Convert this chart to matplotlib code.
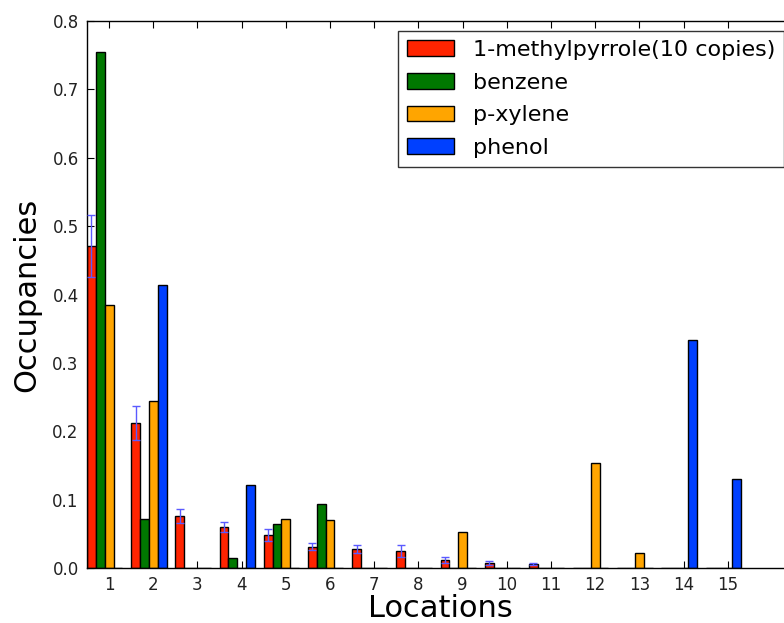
import numpy as np
import matplotlib
matplotlib.use('Agg')
import matplotlib.pyplot as plt

locations = list(range(1, 16))
labels = ['1-methylpyrrole(10 copies)', 'benzene', 'p-xylene', 'phenol']
colors = ['#ff2400', '#007800', '#ffa500', '#0040ff']

methylpyrrole = [0.471, 0.212, 0.076, 0.060, 0.048, 0.031, 0.028, 0.025, 0.012, 0.007, 0.006, 0, 0, 0, 0]
methylpyrrole_err = [0.046, 0.025, 0.010, 0.008, 0.009, 0.005, 0.006, 0.009, 0.004, 0.003, 0.001, 0, 0, 0, 0]
benzene = [0.755, 0.072, 0, 0.015, 0.064, 0.094, 0, 0, 0, 0, 0, 0, 0, 0, 0]
pxylene = [0.385, 0.244, 0, 0, 0.071, 0.070, 0, 0, 0.053, 0, 0, 0.153, 0.022, 0, 0]
phenol = [0, 0.414, 0, 0.121, 0, 0, 0, 0, 0, 0, 0, 0, 0, 0.333, 0.130]

width = 0.2
x = np.array(locations) - 0.5

fig = plt.figure(figsize=(7.84, 6.23), dpi=100)
ax = fig.add_axes([87/784, 55/623, 707/784, 547/623])

series = [methylpyrrole, benzene, pxylene, phenol]
for k, (vals, lab, col) in enumerate(zip(series, labels, colors)):
    ax.bar(x + k*width, vals, width, align='edge', color=col,
           edgecolor='black', linewidth=1, label=lab, zorder=2)

# only draw error bars where there is an occupancy
m = np.array(methylpyrrole) > 0
ax.errorbar((x + width/2)[m], np.array(methylpyrrole)[m], yerr=np.array(methylpyrrole_err)[m],
            fmt='none', ecolor='#5a5aff', elinewidth=1, capsize=3, capthick=1, zorder=3)

ax.set_xlim(0.5, 16.5)
ax.set_ylim(0, 0.8)
ax.set_xticks(locations)
ax.set_yticks(np.arange(0, 0.81, 0.1))
ax.set_yticklabels(['%.1f' % v for v in np.arange(0, 0.81, 0.1)])
ax.tick_params(direction='in', top=True, right=True, length=5, labelsize=12, pad=6,
               labelcolor='#222222')
for s in ax.spines.values():
    s.set_linewidth(1)

ax.set_xlabel('Locations', fontsize=22, labelpad=0)
ax.set_ylabel('Occupancies', fontsize=22, labelpad=8)

leg = ax.legend(loc='upper right', fontsize=16, fancybox=False, frameon=True,
                labelspacing=0.57, handlelength=2.1, handleheight=0.7,
                handletextpad=0.85, borderpad=0.4, borderaxespad=0.45)
leg.get_frame().set_edgecolor('black')
leg.get_frame().set_linewidth(1)

fig.savefig('out.png', dpi=100)
